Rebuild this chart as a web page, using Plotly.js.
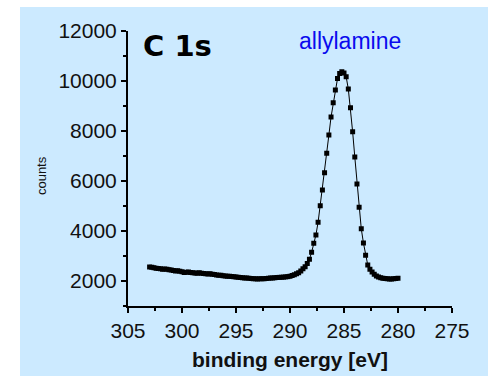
<!DOCTYPE html>
<html>
<head>
<meta charset="utf-8">
<script src="https://cdn.plot.ly/plotly-3.0.1.min.js"></script>
<style>
  html, body { margin: 0; padding: 0; background: #ffffff; width: 488px; height: 376px; overflow: hidden; }
  #chart { position: absolute; left: 20px; top: 7px; width: 468px; height: 369px; }
</style>
</head>
<body>
<div id="chart"></div>
<script>
// Binding energy (eV)
const energy = [
  303.0, 302.8, 302.6, 302.4, 302.2, 302.0, 301.8, 301.6, 301.4, 301.2,
  301.0, 300.8, 300.6, 300.4, 300.2, 300.0, 299.8, 299.6, 299.4, 299.2,
  299.0, 298.8, 298.6, 298.4, 298.2, 298.0, 297.8, 297.6, 297.4, 297.2,
  297.0, 296.8, 296.6, 296.4, 296.2, 296.0, 295.8, 295.6, 295.4, 295.2,
  295.0, 294.8, 294.6, 294.4, 294.2, 294.0, 293.8, 293.6, 293.4, 293.2,
  293.0, 292.8, 292.6, 292.4, 292.2, 292.0, 291.8, 291.6, 291.4, 291.2,
  291.0, 290.8, 290.6, 290.4, 290.2, 290.0, 289.8, 289.6, 289.4, 289.2,
  289.0, 288.8, 288.6, 288.4, 288.2, 288.0, 287.8, 287.6, 287.4, 287.2,
  287.0, 286.8, 286.6, 286.4, 286.2, 286.0, 285.8, 285.6, 285.4, 285.2,
  285.0, 284.8, 284.6, 284.4, 284.2, 284.0, 283.8, 283.6, 283.4, 283.2,
  283.0, 282.8, 282.6, 282.4, 282.2, 282.0, 281.8, 281.6, 281.4, 281.2,
  281.0, 280.8, 280.6, 280.4, 280.2, 280.0
];
// Counts
const counts = [
  2560, 2550, 2530, 2510, 2500, 2490, 2470, 2480, 2470, 2450,
  2440, 2420, 2400, 2410, 2390, 2370, 2340, 2350, 2360, 2340,
  2330, 2320, 2310, 2330, 2310, 2300, 2290, 2280, 2290, 2270,
  2260, 2240, 2230, 2230, 2210, 2200, 2190, 2190, 2180, 2170,
  2160, 2150, 2140, 2130, 2120, 2120, 2110, 2100, 2090, 2090,
  2080, 2090, 2090, 2090, 2100, 2110, 2120, 2120, 2130, 2140,
  2145, 2150, 2155, 2165, 2175, 2190, 2220, 2250, 2290, 2330,
  2400, 2490, 2570, 2700, 2870, 3150, 3510, 3840, 4350, 5010,
  5640, 6330, 7110, 7840, 8560, 9130, 9640, 10100, 10300, 10370,
  10320, 10170, 9680, 8930, 7970, 6960, 5880, 4950, 4090, 3520,
  3030, 2640, 2470, 2360, 2270, 2200, 2160, 2130, 2110, 2100,
  2090, 2080, 2080, 2090, 2100, 2110
];
const xTickVals = [305, 300, 295, 290, 285, 280, 275];
const yTickVals = [2000, 4000, 6000, 8000, 10000, 12000];

const trace = {
  x: energy,
  y: counts,
  type: 'scatter',
  mode: 'lines+markers',
  line: { color: '#000000', width: 1 },
  marker: { symbol: 'square', size: 5, color: '#000000' },
  hoverinfo: 'skip'
};

const font = "Liberation Sans, Arial, sans-serif";
const layout = {
  width: 468,
  height: 369,
  margin: { l: 108, r: 36, t: 24, b: 70, pad: 0 },
  paper_bgcolor: '#cceaff',
  plot_bgcolor: 'rgba(0,0,0,0)',
  showlegend: false,
  font: { family: font, color: '#111111' },
  xaxis: {
    range: [305, 275],
    autorange: false,
    tickmode: 'array',
    tickvals: xTickVals,
    ticks: 'outside',
    ticklen: 5,
    tickwidth: 2,
    tickcolor: '#000000',
    showline: true,
    linecolor: '#000000',
    linewidth: 2,
    showgrid: false,
    zeroline: false,
    tickfont: { family: font, size: 21, color: '#111111' },
    minor: { dtick: 2.5, tick0: 275, ticks: 'outside', ticklen: 3, tickwidth: 2, tickcolor: '#000000', showgrid: false }
  },
  yaxis: {
    range: [1000, 12000],
    autorange: false,
    tickmode: 'array',
    tickvals: yTickVals,
    tickformat: 'd',
    ticks: 'outside',
    ticklen: 5,
    tickwidth: 2,
    tickcolor: '#000000',
    showline: true,
    linecolor: '#000000',
    linewidth: 2,
    showgrid: false,
    zeroline: false,
    tickfont: { family: font, size: 21, color: '#111111' },
    minor: { dtick: 1000, tick0: 1000, ticks: 'outside', ticklen: 3, tickwidth: 2, tickcolor: '#000000', showgrid: false }
  },
  annotations: [
    { text: 'C 1s', xref: 'paper', yref: 'paper', x: 0.04, y: 0.945, xanchor: 'left', yanchor: 'middle',
      showarrow: false, font: { family: 'DejaVu Sans, sans-serif', size: 29, color: '#000000', weight: 'bold' } },
    { text: 'allylamine', xref: 'paper', yref: 'paper', x: 0.685, y: 0.965, xanchor: 'center', yanchor: 'middle',
      showarrow: false, font: { family: font, size: 23, color: '#0a0aee' } },
    { text: 'counts', xref: 'paper', yref: 'paper', x: -0.265, y: 0.473, xanchor: 'center', yanchor: 'middle',
      textangle: -90, showarrow: false, font: { family: font, size: 13, color: '#111111' } },
    { text: 'binding energy [eV]', xref: 'paper', yref: 'paper', x: 0.5, y: -0.196, xanchor: 'center', yanchor: 'middle',
      showarrow: false, font: { family: font, size: 21, color: '#111111', weight: 'bold' } }
  ]
};

Plotly.newPlot('chart', [trace], layout, { staticPlot: true, displayModeBar: false });
</script>
</body>
</html>
